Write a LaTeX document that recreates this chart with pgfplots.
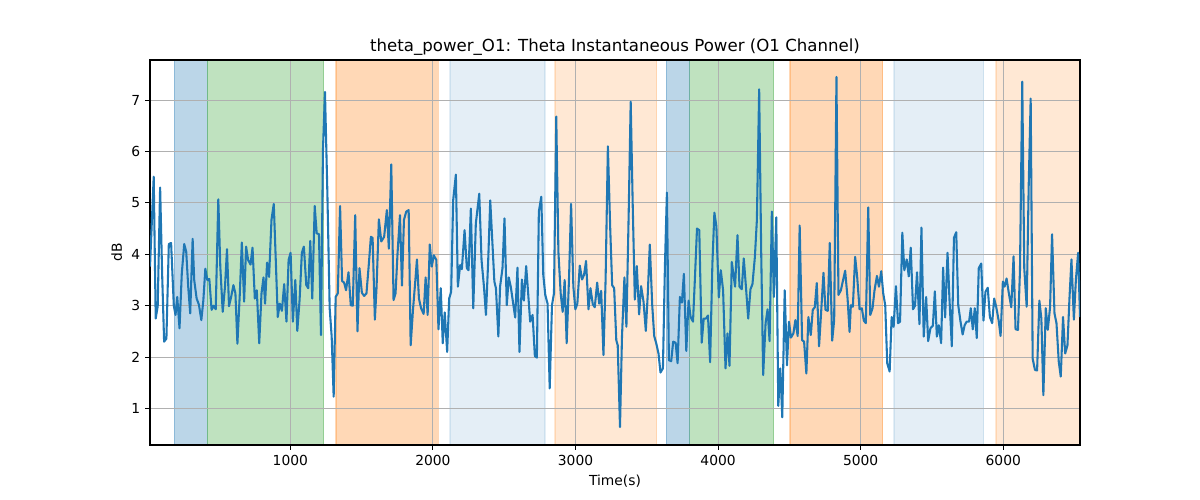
\documentclass[border=0pt]{standalone}
\usepackage{fontspec}
\setmainfont{DejaVu Sans}
\usepackage{pgfplots}
\pgfplotsset{compat=1.18}
\definecolor{tabblue}{HTML}{1F77B4}
\definecolor{tabgreen}{HTML}{2CA02C}
\definecolor{taborange}{HTML}{FF7F0E}
\definecolor{gridgray}{HTML}{B0B0B0}
\pgfplotsset{span/.style={on layer=axis background, line width=1pt, forget plot}}
\begin{document}
\begin{tikzpicture}
\begin{axis}[
  set layers,
  at={(0,0)}, anchor=south west,
  width=9.3in, height=3.85in, scale only axis,
  xmin=16, xmax=6538, ymin=0.29, ymax=7.78,
  xtick={1000,2000,3000,4000,5000,6000},
  ytick={1,2,3,4,5,6,7},
  xtick pos=bottom, ytick pos=left,
  /pgf/number format/set thousands separator={},
  /pgf/number format/assume math mode=true,
  grid=major,
  grid style={color=gridgray, line width=0.8pt},
  tick align=outside,
  major tick length=3.5pt,
  tick style={black, line width=0.8pt},
  axis line style={line width=0.8pt},
  ticklabel style={font=\fontsize{10}{12}\selectfont},
  label style={font=\fontsize{10}{12}\selectfont},
  title style={font=\fontsize{12}{14}\selectfont, yshift=-6.5pt},
  title={theta\_power\_O1: Theta Instantaneous Power (O1 Channel)},
  xlabel={Time(s)},
  ylabel={dB},
]
\addplot[span, fill=tabblue, draw=tabblue, opacity=0.3] coordinates {(186,0.29) (186,7.78) (418,7.78) (418,0.29)} -- cycle;
\addplot[span, fill=tabgreen, draw=tabgreen, opacity=0.3] coordinates {(418,0.29) (418,7.78) (1234,7.78) (1234,0.29)} -- cycle;
\addplot[span, fill=taborange, draw=taborange, opacity=0.3] coordinates {(1320,0.29) (1320,7.78) (2038,7.78) (2038,0.29)} -- cycle;
\addplot[span, fill=tabblue, draw=tabblue, opacity=0.12] coordinates {(2120,0.29) (2120,7.78) (2786,7.78) (2786,0.29)} -- cycle;
\addplot[span, fill=taborange, draw=taborange, opacity=0.18] coordinates {(2856,0.29) (2856,7.78) (3569,7.78) (3569,0.29)} -- cycle;
\addplot[span, fill=tabblue, draw=tabblue, opacity=0.3] coordinates {(3637,0.29) (3637,7.78) (3801,7.78) (3801,0.29)} -- cycle;
\addplot[span, fill=tabgreen, draw=tabgreen, opacity=0.3] coordinates {(3801,0.29) (3801,7.78) (4390,7.78) (4390,0.29)} -- cycle;
\addplot[span, fill=taborange, draw=taborange, opacity=0.3] coordinates {(4504,0.29) (4504,7.78) (5154,7.78) (5154,0.29)} -- cycle;
\addplot[span, fill=tabblue, draw=tabblue, opacity=0.12] coordinates {(5234,0.29) (5234,7.78) (5862,7.78) (5862,0.29)} -- cycle;
\addplot[span, fill=taborange, draw=none, opacity=0.18] coordinates {(5949,0.29) (5949,7.78) (6538,7.78) (6538,0.29)} -- cycle;
\addplot[span, draw=taborange, opacity=0.18] coordinates {(5949,0.29) (5949,7.78)};
\addplot[tabblue, line width=1.5pt, line join=round] coordinates {
(16,3.76) (42,5.51) (56,2.75) (70,2.99) (87,5.3) (101,3.63) (115,2.30) (131,2.36) (148,4.2) (164,4.22) (183,3.0) (195,2.82) (207,3.17) (223,2.56) (239,3.63) (256,4.2) (270,4.05) (284,3.37) (298,2.85) (315,4.3) (326,3.5) (343,3.14) (359,3.02) (376,2.72) (390,3.1) (404,3.72) (418,3.5) (432,3.52) (448,2.92) (462,3.0) (477,2.93) (495,5.07) (509,3.76) (526,2.88) (542,3.37) (556,4.1) (570,2.99) (585,3.17) (601,3.4) (615,3.24) (629,2.26) (646,3.24) (660,4.23) (676,3.08) (690,4.15) (704,3.89) (721,3.8) (735,4.13) (751,3.14) (765,3.3) (782,2.27) (798,3.24) (812,3.55)
(823,3.04) (837,3.84) (851,3.56) (868,4.67) (884,4.98) (898,3.89) (912,2.78) (926,3.04) (941,2.9) (957,3.42) (973,2.69) (988,3.89) (1002,4.03) (1018,2.69) (1035,3.5) (1049,2.51) (1065,3.11) (1081,4.03) (1095,4.15) (1112,3.4) (1126,3.34) (1140,4.26) (1154,3.14) (1171,4.94) (1185,4.41) (1201,4.39) (1215,2.43) (1229,6.03) (1243,7.16) (1260,5.18) (1276,2.95) (1290,2.4) (1304,1.23) (1318,3.17) (1333,3.24) (1349,4.94) (1363,3.48) (1377,3.45) (1391,3.3) (1408,3.65) (1424,3.01) (1438,3.0) (1455,4.76) (1471,2.5) (1485,3.73) (1502,3.25) (1518,3.19) (1534,3.24) (1551,3.82) (1565,4.34) (1577,4.32) (1593,2.73) (1605,3.37) (1621,4.68) (1638,4.25)
(1658,4.34) (1677,4.86) (1691,4.11) (1708,5.75) (1724,3.11) (1738,3.24) (1752,4.02) (1769,4.76) (1783,3.39) (1797,4.67) (1813,4.83) (1830,4.86) (1844,2.23) (1860,2.91) (1877,3.5) (1888,3.9) (1902,3.14) (1917,2.95) (1935,2.84) (1949,3.55) (1963,2.82) (1978,4.19) (1992,3.76) (2006,3.98) (2024,3.89) (2039,2.54) (2055,3.34) (2069,2.27) (2083,2.87) (2100,2.1) (2114,3.14) (2128,3.27) (2142,5.05) (2161,5.55) (2175,3.37) (2191,3.79) (2203,3.71) (2222,4.47) (2238,3.73) (2250,3.69) (2266,4.89) (2283,2.95) (2301,4.6) (2325,5.18) (2341,3.89) (2358,3.37) (2372,2.82) (2388,3.9) (2402,5.05) (2431,3.47) (2442,3.34) (2459,2.4)
(2471,3.37) (2488,3.73) (2502,4.7) (2518,3.01) (2532,3.55) (2546,3.37) (2563,3.04) (2577,2.77) (2593,3.74) (2607,2.1) (2624,3.51) (2638,3.1) (2654,3.77) (2668,3.24) (2682,2.69) (2699,2.82) (2715,2.02) (2729,1.99) (2743,4.83) (2760,5.12) (2774,3.6) (2788,3.21) (2804,3.04) (2819,1.39) (2835,3.01) (2849,3.24) (2865,6.68) (2880,4.05) (2896,3.24) (2910,2.88) (2924,3.5) (2938,2.27) (2955,3.57) (2969,4.98) (2985,3.37) (2999,2.93) (3013,3.04) (3030,3.78) (3046,3.51) (3060,3.6) (3074,3.87) (3091,2.93) (3105,3.34) (3121,3.03) (3135,2.97) (3152,3.45) (3166,3.04) (3180,3.29) (3196,2.04) (3211,3.5) (3227,6.1) (3243,4.54) (3257,3.4) (3271,3.34) (3286,2.33)
(3296,2.23) (3312,0.64) (3326,2.4) (3343,3.55) (3357,2.59) (3373,4.8) (3387,6.97) (3401,4.99) (3416,3.12) (3430,3.77) (3446,2.83) (3460,3.38) (3477,3.08) (3493,2.51) (3507,3.24) (3521,4.19) (3538,3.01) (3552,2.41) (3566,2.27) (3582,2.07) (3596,1.7) (3613,1.78) (3627,3.76) (3641,5.2) (3655,1.94) (3671,1.92) (3685,2.3) (3702,2.28) (3716,1.88) (3732,3.17) (3746,3.06) (3760,3.62) (3777,2.12) (3793,3.1) (3807,2.78) (3824,2.69) (3838,3.57) (3852,4.5) (3868,4.47) (3885,2.28) (3899,2.75) (3915,2.75) (3929,2.81) (3944,1.9) (3960,3.82) (3974,4.81) (3988,4.54) (4005,3.16) (4019,3.69) (4035,3.3) (4052,1.78) (4066,2.46) (4080,1.83) (4096,3.85)
(4119,3.37) (4136,4.37) (4150,3.37) (4166,3.32) (4180,3.92) (4197,3.3) (4211,2.75) (4227,3.32) (4241,3.42) (4258,3.95) (4272,4.67) (4288,7.21) (4302,4.08) (4316,1.65) (4333,2.66) (4347,2.93) (4361,2.31) (4377,4.83) (4391,3.17) (4408,4.72) (4422,1.05) (4436,1.78) (4450,0.83) (4467,3.3) (4483,1.84) (4497,2.69) (4511,2.38) (4528,2.46) (4542,2.72) (4558,2.41) (4572,4.56) (4589,2.33) (4603,2.3) (4619,1.68) (4633,2.78) (4650,2.43) (4664,2.92) (4678,2.97) (4692,3.44) (4708,2.21) (4722,2.85) (4739,3.64) (4753,2.92) (4769,2.9) (4783,4.22) (4800,2.32) (4814,2.72) (4830,7.45) (4844,3.21) (4861,3.3) (4875,3.48) (4891,3.68) (4908,3.14) (4922,2.49)
(4931,3.01) (4945,2.98) (4961,3.95) (4975,3.57) (4992,2.93) (5008,2.95) (5022,2.71) (5036,2.66) (5053,4.91) (5067,2.82) (5083,2.95) (5097,3.3) (5114,3.58) (5128,3.37) (5144,3.67) (5158,3.24) (5172,3.01) (5186,1.88) (5203,1.72) (5217,2.78) (5231,2.59) (5247,3.38) (5262,2.66) (5276,2.69) (5292,4.42) (5306,3.69) (5323,3.9) (5337,3.57) (5351,4.13) (5367,2.93) (5381,3.0) (5395,3.65) (5412,2.64) (5426,4.52) (5442,2.4) (5459,3.17) (5473,2.31) (5489,2.56) (5506,2.61) (5520,3.28) (5534,2.4) (5548,2.62) (5564,2.27) (5578,3.74) (5592,2.77) (5609,4.03) (5623,3.1) (5639,2.21) (5654,4.32) (5670,4.43) (5684,3.01) (5700,2.69) (5715,2.44) (5729,2.62) (5743,2.69)
(5760,2.69) (5772,2.95) (5786,2.54) (5800,2.95) (5814,2.37) (5828,3.73) (5845,3.82) (5861,2.71) (5875,3.27) (5891,3.35) (5906,2.78) (5922,2.66) (5936,3.14) (5950,2.98) (5967,2.72) (5981,2.41) (5997,3.47) (6009,3.37) (6023,3.53) (6039,3.24) (6056,2.97) (6072,3.96) (6086,2.54) (6103,2.53) (6117,3.69) (6133,7.36) (6147,3.73) (6164,2.98) (6178,5.31) (6192,7.03) (6206,1.97) (6222,1.75) (6237,1.74) (6253,3.1) (6267,2.75) (6281,1.26) (6298,2.95) (6312,2.53) (6328,2.97) (6342,4.39) (6359,2.85) (6373,2.66) (6389,1.91) (6403,1.62) (6419,2.78) (6434,2.07) (6450,2.23) (6464,3.14) (6478,3.9) (6495,2.73) (6509,3.5) (6525,4.03) (6538,2.78)
};
\end{axis}
\path (-1.5in,-0.55in) rectangle (10.5in,4.45in);
\end{tikzpicture}
\end{document}
